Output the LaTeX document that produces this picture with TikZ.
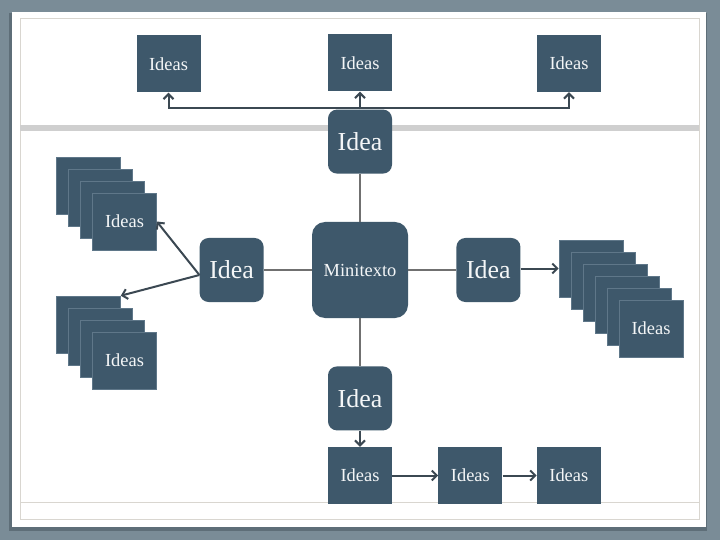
\documentclass[tikz,border=0pt]{standalone}
\usepackage{fontspec}
\setmainfont{Liberation Serif}
\usetikzlibrary{arrows.meta,positioning}
\definecolor{slatebg}{HTML}{7A8C97}
\definecolor{slateshade}{HTML}{5E6E78}
\definecolor{cardfill}{HTML}{3E586B}
\definecolor{cardedge}{HTML}{5F7789}
\definecolor{cardtext}{HTML}{F4F6F7}
\definecolor{rulegray}{HTML}{D9D6D0}
\definecolor{bargray}{HTML}{CFCFCF}
\definecolor{linkgray}{HTML}{707070}
\definecolor{arrowdark}{HTML}{3B4852}
\tikzset{
  ideasq/.style={fill=cardfill, minimum width=64bp, minimum height=57bp,
                 inner sep=0pt, text=cardtext, font=\fontsize{18.5}{20}\selectfont},
  stackcard/.style={ideasq, draw=cardedge, line width=0.6bp},
  ideabox/.style={fill=cardfill, rounded corners=9bp, minimum size=64bp,
                  inner sep=0pt, text=cardtext, font=\fontsize{26}{28}\selectfont},
  minibox/.style={ideabox, rounded corners=13bp, minimum size=96bp,
                  font=\fontsize{18.5}{20}\selectfont},
  lnk/.style={line width=2bp, color=linkgray},
  arr/.style={-{Straight Barb[length=5bp,width=10bp]}, line width=2bp, color=arrowdark}}
\begin{document}
\begin{tikzpicture}[x=1bp, y=-1bp, node distance=48bp]
    % slide frame
    \fill[slatebg] (0,0) rectangle (720,540);
    \fill[slateshade] (9,13) rectangle (707,531);
    \fill[white] (12,12) rectangle (706,527);
    \draw[rulegray, line width=0.8bp] (20,18) rectangle (699,519);
    \draw[rulegray, line width=1bp] (20,502) -- (699,502);
    \fill[bargray] (20,125) rectangle (699,131);

    % hub and the four ideas
    \node[minibox] (mt) at (360,270) {Minitexto};
    \node[ideabox, above=of mt] (ti) {Idea};
    \node[ideabox, below=of mt] (bi) {Idea};
    \node[ideabox, left=of mt] (li) {Idea};
    \node[ideabox, right=of mt] (ri) {Idea};
    \draw[lnk] (mt.north) -- (ti.south);
    \draw[lnk] (mt.south) -- (bi.north);
    \draw[lnk] (mt.west) -- (li.east);
    \draw[lnk] (mt.east) -- (ri.west);

    % top row
    \node[ideasq] (tl) at (168.5,64) {Ideas};
    \node[ideasq] (tm) at (360,63) {Ideas};
    \node[ideasq] (tr) at (569,63.5) {Ideas};
    \coordinate (hub) at ([yshift=1bp]ti.north);
    \draw[arr] (ti.north) -- (tm.south);
    \draw[arr] (hub) -| (tl.south);
    \draw[arr] (hub) -| (tr.south);

    % bottom row
    \node[ideasq] (b1) at (360,475.5) {Ideas};
    \node[ideasq, right=46bp of b1] (b2) {Ideas};
    \node[ideasq, right=34bp of b2] (b3) {Ideas};
    \draw[arr] (bi.south) -- (b1.north);
    \draw[arr] (b1) -- (b2);
    \draw[arr] (b2) -- (b3);

    % left stacks
    \foreach \k in {0,...,2}
      \node[stackcard] (ua\k) at (88.5+12*\k,185.5+12*\k) {};
    \node[stackcard] (ua3) at (124.5,221.5) {Ideas};
    \foreach \k in {0,...,2}
      \node[stackcard] (la\k) at (88.5+12*\k,324.5+12*\k) {};
    \node[stackcard] (la3) at (124.5,360.5) {Ideas};
    \draw[arr] ([yshift=-5bp]li.west) -- (ua3.east);
    \draw[arr] ([yshift=-5bp]li.west) -- (la0.north east);

    % right stack
    \foreach \k in {0,...,4}
      \node[stackcard] (ra\k) at (591+12*\k,268.5+12*\k) {};
    \node[stackcard] (ra5) at (651,328.5) {Ideas};
    \draw[arr] (ri.east |- ra0.west) -- (ra0.west);
\end{tikzpicture}
\end{document}
